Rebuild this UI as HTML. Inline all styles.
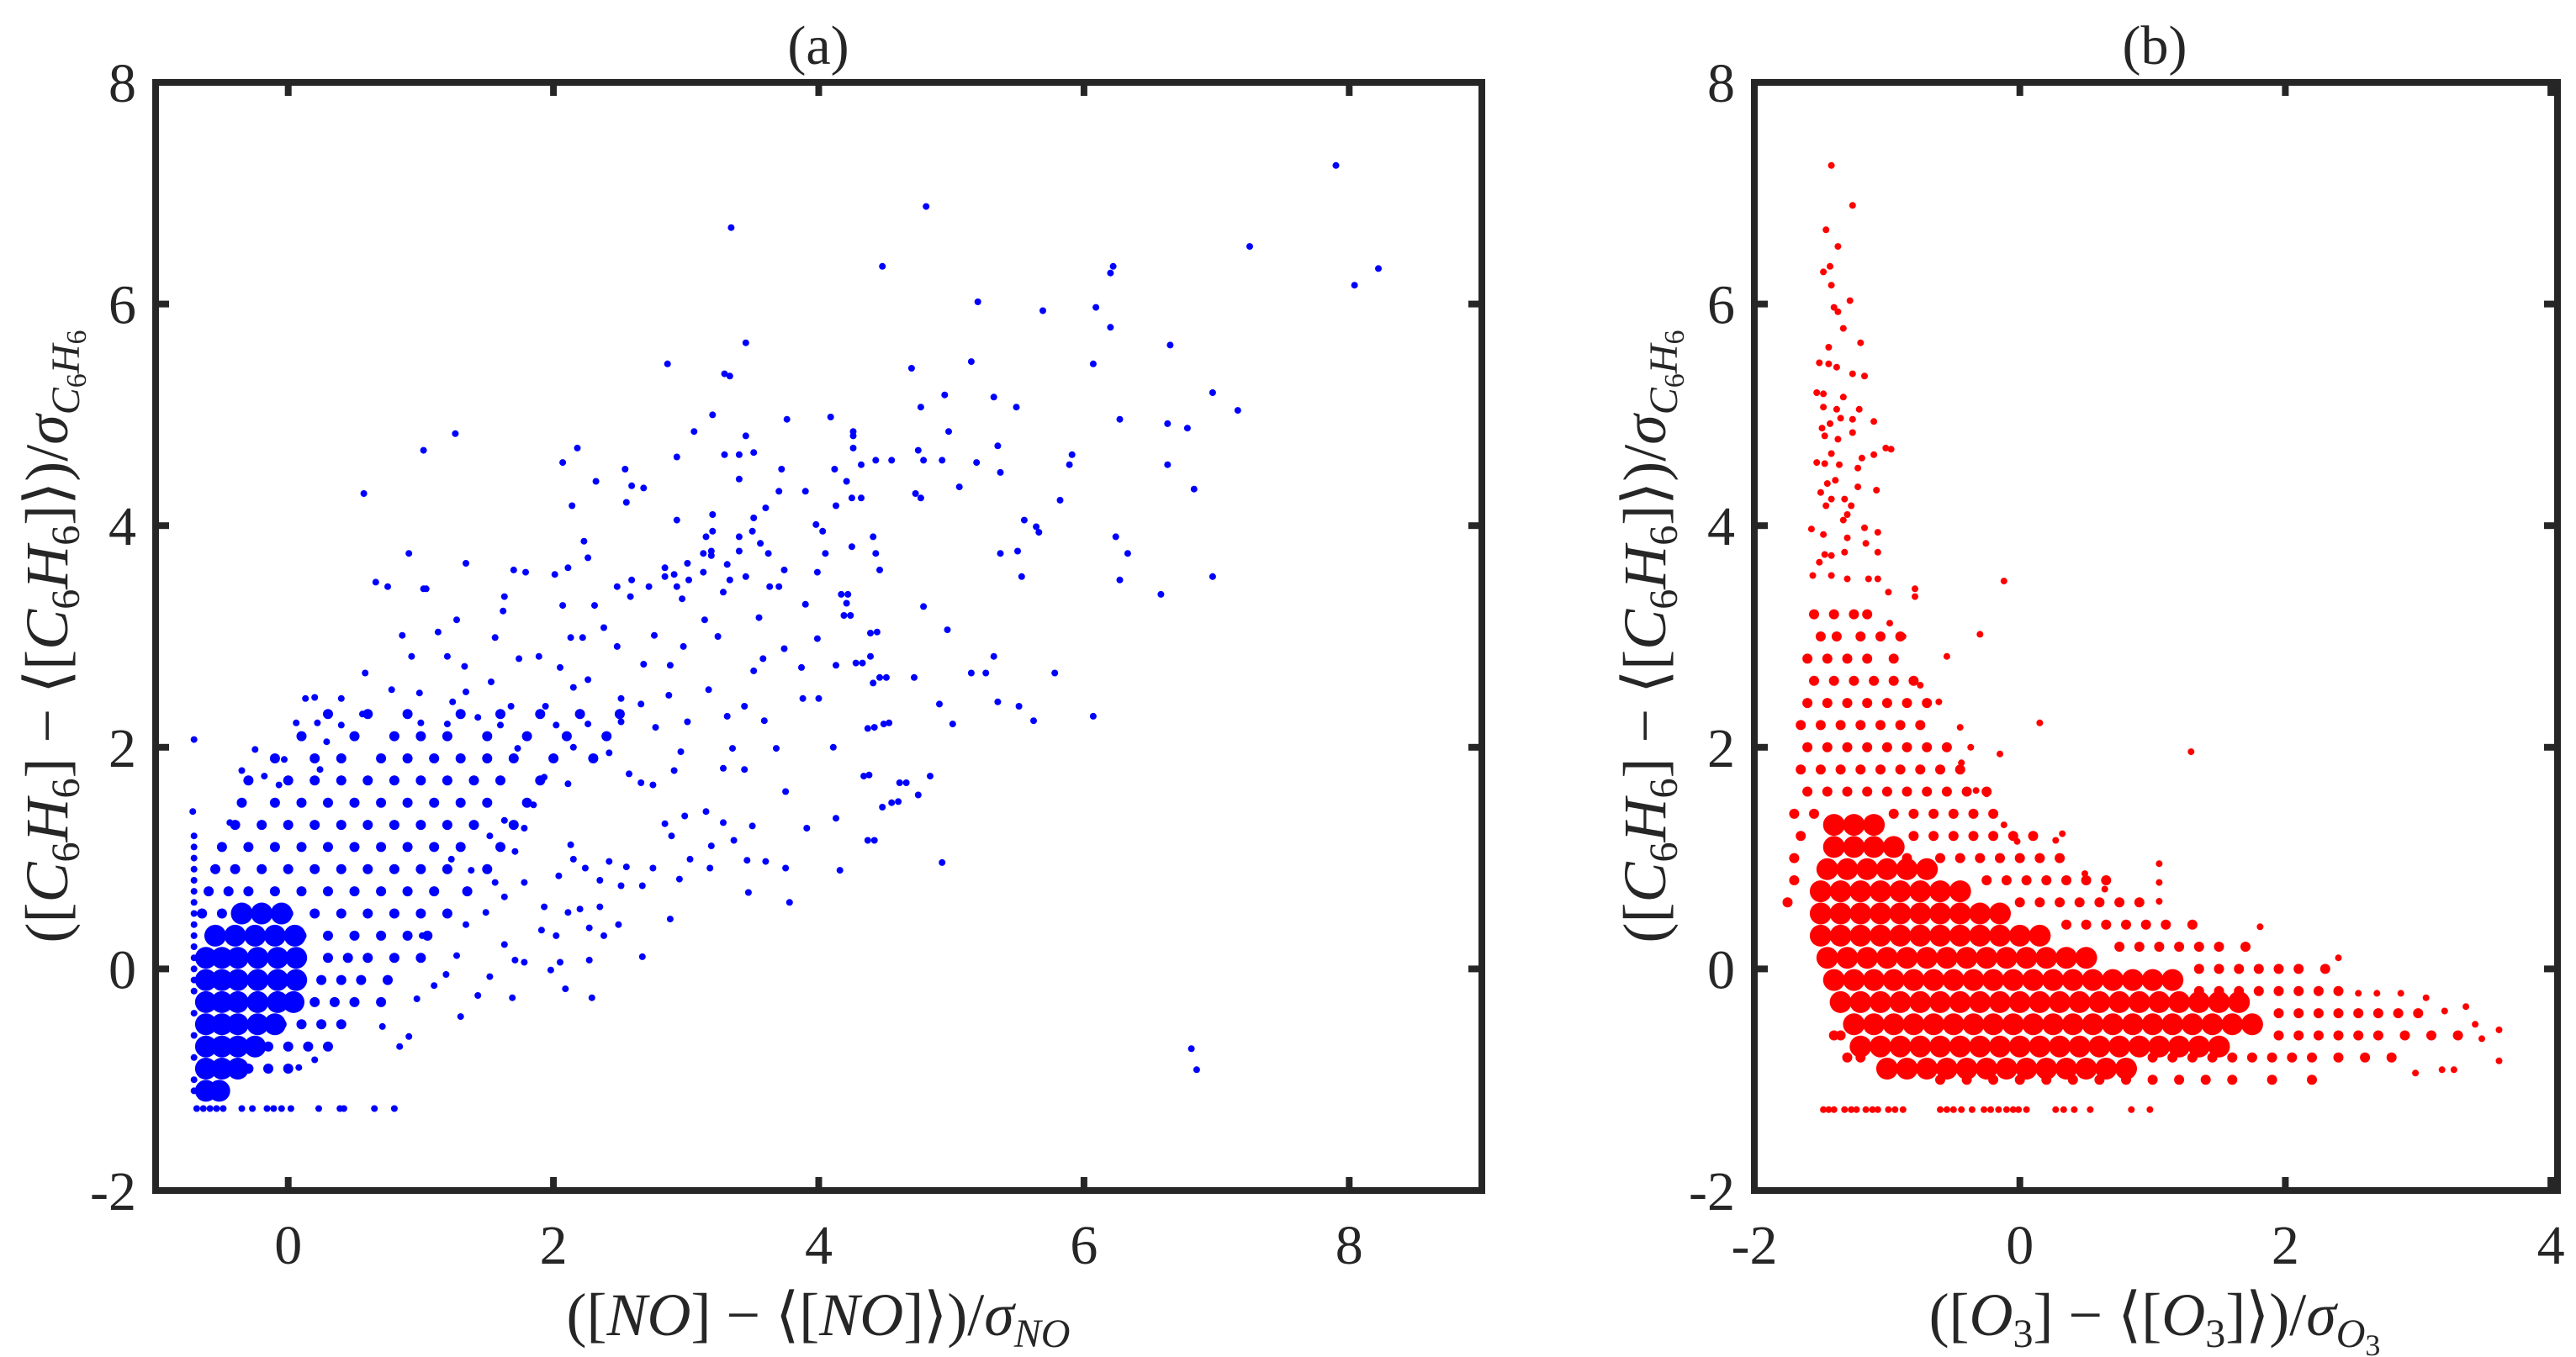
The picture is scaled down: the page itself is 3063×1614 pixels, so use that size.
<!DOCTYPE html>
<html><head><meta charset="utf-8"><style>
html,body{margin:0;padding:0;background:#fff;}
svg{display:block;}
svg text{font-family:"Liberation Serif","Times New Roman","DejaVu Serif",serif !important;fill:#262626;}
</style></head><body>
<svg id="chart" xmlns="http://www.w3.org/2000/svg" width="3063" height="1614" viewBox="0 0 3063 1614" font-family="Liberation Serif, serif">
<rect x="0" y="0" width="3063" height="1614" fill="#fff"/>
<g id="panelA"><g id="marksA"></g></g>
<g id="panelB"><g id="marksB"></g></g>
<g id="axes"></g>
<text x="973" y="76" font-size="66" text-anchor="middle">(a)</text>
<text x="2562" y="76" font-size="66" text-anchor="middle">(b)</text>
<text x="973" y="1588" font-size="72" text-anchor="middle">([<tspan font-style="italic">NO</tspan>] − ⟨[<tspan font-style="italic">NO</tspan>]⟩)/<tspan font-style="italic">σ</tspan><tspan font-style="italic" font-size="48" dy="14">NO</tspan></text>
<text x="2562" y="1588" font-size="72" text-anchor="middle">([<tspan font-style="italic">O</tspan><tspan font-size="48" dy="14">3</tspan><tspan dy="-14">] − ⟨[</tspan><tspan font-style="italic">O</tspan><tspan font-size="48" dy="14">3</tspan><tspan dy="-14">]⟩)/</tspan><tspan font-style="italic">σ</tspan><tspan font-style="italic" font-size="48" dy="14">O</tspan><tspan font-size="36" dy="10">3</tspan></text>
<text transform="translate(80,757) rotate(-90)" font-size="72" text-anchor="middle">([<tspan font-style="italic">C</tspan><tspan font-size="48" dy="14">6</tspan><tspan font-style="italic" dy="-14">H</tspan><tspan font-size="48" dy="14">6</tspan><tspan dy="-14">] − ⟨[</tspan><tspan font-style="italic">C</tspan><tspan font-size="48" dy="14">6</tspan><tspan font-style="italic" dy="-14">H</tspan><tspan font-size="48" dy="14">6</tspan><tspan dy="-14">]⟩)/</tspan><tspan font-style="italic">σ</tspan><tspan font-style="italic" font-size="48" dy="14">C</tspan><tspan font-size="34" dy="8">6</tspan><tspan font-style="italic" font-size="48" dy="-8">H</tspan><tspan font-size="34" dy="8">6</tspan></text>
<text transform="translate(1980,757) rotate(-90)" font-size="72" text-anchor="middle">([<tspan font-style="italic">C</tspan><tspan font-size="48" dy="14">6</tspan><tspan font-style="italic" dy="-14">H</tspan><tspan font-size="48" dy="14">6</tspan><tspan dy="-14">] − ⟨[</tspan><tspan font-style="italic">C</tspan><tspan font-size="48" dy="14">6</tspan><tspan font-style="italic" dy="-14">H</tspan><tspan font-size="48" dy="14">6</tspan><tspan dy="-14">]⟩)/</tspan><tspan font-style="italic">σ</tspan><tspan font-style="italic" font-size="48" dy="14">C</tspan><tspan font-size="34" dy="8">6</tspan><tspan font-style="italic" font-size="48" dy="-8">H</tspan><tspan font-size="34" dy="8">6</tspan></text>
</svg>
<script>
// ---- Panel (a): NO vs C6H6 ----
const xTicksA = [0, 2, 4, 6, 8];
const yTicks = [-2, 0, 2, 4, 6, 8];
const xTicksB = [-2, 0, 2, 4];
const sparseA = [
[7.90,7.25],[4.81,6.88],[4.48,6.34],[7.25,6.52],[6.22,6.34],[6.20,6.28],[8.22,6.32],[8.04,6.17],[5.20,6.02],[5.69,5.94],[6.09,5.97],[6.20,5.79],[6.65,5.63],[5.15,5.48],[6.07,5.46],[4.70,5.42],[4.95,5.18],[4.77,5.07],[5.32,5.16],[5.49,5.07],[6.97,5.20],[7.16,5.04],[6.27,4.96],[6.63,4.92],[6.78,4.88],[4.26,4.85],[4.26,4.81],[4.98,4.85],[4.26,4.70],[4.75,4.68],[5.35,4.72],[5.91,4.64],[4.32,4.55],[4.43,4.59],[4.55,4.59],[4.79,4.59],[4.93,4.59],[5.19,4.57],[5.89,4.55],[6.63,4.55],[5.37,4.48],[4.21,4.40],[5.06,4.35],[6.83,4.33],[4.73,4.29],[4.77,4.25],[4.25,4.25],[4.32,4.25],[5.82,4.23],[5.55,4.05],[5.64,3.99],[5.66,3.94],[4.41,3.90],[6.24,3.90],[4.25,3.81],[4.43,3.75],[5.37,3.75],[5.50,3.77],[6.33,3.75],[4.46,3.60],[5.53,3.54],[6.27,3.51],[6.97,3.54],[4.17,3.38],[6.58,3.38],[4.21,3.30],[4.79,3.27],[4.19,3.19],[4.97,3.06],[4.39,3.03],[4.39,2.82],[5.32,2.82],[4.28,2.76],[5.15,2.67],[5.26,2.67],[5.78,2.67],[4.46,2.63],[4.72,2.63],[4.41,2.58],[4.91,2.39],[5.35,2.41],[5.51,2.37],[6.07,2.28],[5.62,2.24],[4.37,2.17],[4.49,2.21],[5.01,2.21],[4.34,1.74],[4.84,1.74],[4.61,1.68],[4.75,1.57],[4.55,1.50],[4.48,1.46],[4.37,1.16],[4.93,0.96],[6.81,-0.72],[6.85,-0.91],
[3.34,6.69],[3.45,5.65],[2.86,5.46],[3.29,5.37],[3.33,5.35],[3.20,5.00],[4.09,4.98],[3.76,4.96],[1.26,4.83],[3.06,4.85],[3.45,4.81],[1.02,4.68],[2.18,4.70],[2.93,4.62],[3.29,4.64],[3.40,4.64],[3.51,4.66],[2.07,4.57],[2.54,4.51],[3.72,4.51],[4.12,4.51],[2.32,4.40],[2.59,4.36],[2.68,4.34],[3.40,4.42],[0.57,4.29],[3.70,4.31],[3.90,4.31],[2.14,4.18],[2.55,4.21],[4.13,4.18],[3.60,4.16],[3.20,4.10],[3.51,4.07],[2.93,4.05],[3.98,4.01],[3.20,3.95],[3.15,3.90],[3.40,3.90],[3.50,3.95],[4.03,3.95],[2.23,3.86],[3.56,3.84],[0.91,3.75],[3.19,3.77],[3.13,3.75],[3.19,3.73],[3.40,3.77],[3.62,3.75],[4.05,3.75],[2.26,3.71],[1.34,3.66],[3.01,3.66],[3.31,3.65],[1.70,3.60],[1.79,3.58],[2.01,3.56],[2.11,3.62],[2.84,3.62],[2.91,3.56],[2.84,3.54],[3.13,3.58],[3.74,3.60],[3.99,3.58],[0.66,3.49],[0.75,3.45],[1.02,3.43],[2.48,3.45],[2.59,3.51],[2.72,3.45],[2.93,3.45],[3.02,3.51],[3.33,3.51],[3.45,3.54],[3.63,3.45],[3.70,3.45],
[1.04,3.43],[1.63,3.36],[2.58,3.36],[3.28,3.40],[4.22,3.38],[1.62,3.23],[2.07,3.28],[2.31,3.28],[2.97,3.34],[3.90,3.29],[1.27,3.15],[3.14,3.15],[3.55,3.17],[4.24,3.19],[0.86,3.01],[1.13,3.04],[1.56,2.99],[2.13,2.99],[2.38,3.08],[2.76,3.01],[3.24,3.00],[3.99,2.98],[4.44,3.04],[0.93,2.82],[1.20,2.82],[1.89,2.82],[2.48,2.91],[2.98,2.91],[3.74,2.89],[1.33,2.73],[1.74,2.80],[2.22,2.99],[2.68,2.75],[3.58,2.80],[4.13,2.74],[4.33,2.76],[0.58,2.67],[1.53,2.59],[2.05,2.72],[2.26,2.61],[2.88,2.74],[3.51,2.69],[3.87,2.72],[4.51,2.63],[0.78,2.52],[0.99,2.49],[1.34,2.50],[2.15,2.54],[2.51,2.44],[3.17,2.52],[3.88,2.44],[4.00,2.44],[0.13,2.44],[0.20,2.45],[0.40,2.44],[1.24,2.41],[1.68,2.37],[1.94,2.37],[2.66,2.39],[2.87,2.47],[3.44,2.37],[0.06,2.22],[0.22,2.22],[0.40,2.20],[0.56,2.30],[1.00,2.22],[1.20,2.21],[1.43,2.27],[1.60,2.20],[2.02,2.20],[2.26,2.21],[2.51,2.23],[2.77,2.18],[3.01,2.23],[3.31,2.28],[3.59,2.24],[4.42,2.18],[4.53,2.22],[-0.71,2.07],[-0.25,1.98],[-0.03,1.89],[0.29,2.05],[1.73,1.99],[2.15,2.00],[2.42,1.95],[2.96,1.96],[3.35,1.99],[3.68,1.99],[4.11,2.00],[-0.35,1.79],[-0.18,1.74],[0.24,1.80],[2.31,1.91],[2.57,1.76],[2.91,1.79],[3.28,1.81],[3.44,1.80],[4.38,1.75],[4.66,1.68],[-0.07,1.66],[1.93,1.73],[2.11,1.67],[2.66,1.68],[2.75,1.66],[3.75,1.60],[4.60,1.51],[-0.44,1.32],[-0.72,1.42],[2.99,1.38],[3.15,1.42],[3.28,1.32],[3.50,1.29],[3.91,1.27],[4.13,1.36],[4.42,1.16],[2.13,1.12],[2.84,1.31],[2.89,1.20],[3.19,1.11],[3.36,1.16],[2.15,0.99],[2.24,0.91],[2.42,0.97],[2.55,0.92],[2.75,0.91],[3.03,0.99],[3.18,0.91],[3.46,0.98],[3.60,0.97],[3.75,0.91],[4.16,0.89],[1.78,0.78],[2.04,0.84],[2.35,0.80],[2.51,0.75],[2.67,0.75],[2.95,0.81],[3.47,0.69],[3.78,0.60],[1.93,0.56],[2.11,0.51],[2.20,0.54],[2.35,0.56],[2.49,0.40],[2.88,0.45],[1.91,0.35],[2.02,0.30],[2.27,0.37],[2.38,0.30],[1.63,0.22],[1.71,0.08],[1.78,0.06],[2.05,0.06],[2.27,0.08],[2.67,0.11],[1.52,-0.07],[1.98,-0.01],[2.09,-0.18],[2.29,-0.26],[1.69,-0.26],[1.43,-0.24],[1.30,-0.43],[0.97,-0.27],[0.84,-0.70],[0.91,-0.61],[0.71,-0.52],[0.20,-0.82],[0.08,-0.89],
[1.01,0.30],[1.27,0.12],[1.19,-0.05],[1.10,-0.15],[1.34,0.40],[1.49,0.51],[1.63,0.65],[1.56,0.78],[1.38,0.89],[1.23,0.99],[1.71,1.06],[1.52,1.20],[1.78,1.27],[1.85,1.48],[1.63,1.34],
[-0.69,-1.26],[-0.64,-1.26],[-0.59,-1.26],[-0.54,-1.26],[-0.49,-1.26],[-0.35,-1.26],[-0.27,-1.26],[-0.16,-1.26],[-0.11,-1.26],[-0.05,-1.26],[0.02,-1.26],[0.23,-1.26],[0.39,-1.26],[0.42,-1.26],[0.65,-1.26],[0.80,-1.26],
[-0.71,1.2],[-0.71,1.1],[-0.71,1.0],[-0.71,0.9],[-0.71,0.8],[-0.71,0.7],[-0.71,0.6],[-0.71,0.5],[-0.71,0.4],[-0.71,0.3],[-0.71,0.2],[-0.71,0.1],[-0.71,0.0],[-0.71,-0.1],[-0.71,-0.2],[-0.71,-0.4],[-0.71,-0.6],[-0.71,-0.8],[-0.71,-1.0],[-0.71,-1.1]
];
const midRowsA = [
[2.3,[0.3,0.6,0.9,1.3,1.6,1.9,2.2,2.5]],
[2.1,[0.1,0.5,0.8,1.0,1.2,1.5,1.8,2.1,2.4]],
[1.9,[-0.1,0.2,0.4,0.7,0.9,1.1,1.3,1.5,1.7,2.0,2.3]],
[1.7,[-0.3,0.0,0.2,0.4,0.6,0.8,1.0,1.2,1.4,1.6,1.9]],
[1.5,[-0.35,-0.1,0.1,0.3,0.5,0.7,0.9,1.1,1.3,1.5,1.8]],
[1.3,[-0.4,-0.2,0.0,0.2,0.4,0.6,0.8,1.0,1.2,1.4,1.7]],
[1.1,[-0.5,-0.3,-0.1,0.1,0.3,0.5,0.7,0.9,1.1,1.3,1.6]],
[0.9,[-0.55,-0.4,-0.2,0.0,0.2,0.4,0.6,0.8,1.0,1.2,1.5]],
[0.7,[-0.6,-0.45,-0.3,-0.1,0.1,0.3,0.5,0.7,0.9,1.1,1.35]],
[0.5,[-0.65,-0.5,-0.35,-0.2,0.0,0.2,0.4,0.6,0.8,1.0,1.2]],
[0.3,[0.1,0.3,0.5,0.7,0.9,1.05]],
[0.1,[0.1,0.3,0.45,0.6,0.8,1.0]],
[-0.1,[0.1,0.25,0.4,0.55,0.75]],
[-0.3,[0.05,0.2,0.35,0.5,0.7]],
[-0.5,[-0.05,0.1,0.25,0.4]],
[-0.7,[-0.15,0.0,0.15,0.3]],
[-0.9,[-0.3,-0.15,0.0]]
];
const coreRowsA = [
[-1.1,[-0.62,-0.52]],
[-0.9,[-0.62,-0.5,-0.38]],
[-0.7,[-0.62,-0.5,-0.38,-0.25]],
[-0.5,[-0.62,-0.5,-0.38,-0.23,-0.1]],
[-0.3,[-0.62,-0.5,-0.38,-0.23,-0.08,0.04]],
[-0.1,[-0.62,-0.5,-0.38,-0.23,-0.08,0.06]],
[0.1,[-0.62,-0.5,-0.38,-0.23,-0.08,0.06]],
[0.3,[-0.55,-0.4,-0.25,-0.1,0.05]],
[0.5,[-0.35,-0.2,-0.05]]
];
// ---- Panel (b): O3 vs C6H6 ----
const sparseB = [
[-1.42,7.25],[-1.26,6.89],[-1.46,6.67],[-1.37,6.52],[-1.48,6.29],[-1.43,6.34],[-1.42,6.17],[-1.28,6.03],[-1.40,5.97],[-1.37,5.93],[-1.33,5.78],[-1.20,5.65],[-1.44,5.61],[-1.51,5.47],[-1.44,5.46],[-1.38,5.43],[-1.26,5.37],[-1.17,5.35],[-1.53,5.20],[-1.48,5.19],[-1.33,5.16],[-1.38,5.05],[-1.48,5.07],[-1.21,5.05],[-1.35,4.97],[-1.26,4.96],[-1.10,4.94],[-1.49,4.88],[-1.43,4.92],[-1.47,4.81],[-1.26,4.84],[-1.37,4.78],[-1.01,4.70],[-0.97,4.69],[-1.42,4.65],[-1.19,4.61],[-1.10,4.64],[-1.53,4.57],[-1.47,4.56],[-1.36,4.55],[-1.22,4.52],[-1.39,4.41],[-1.45,4.38],[-1.22,4.35],[-1.08,4.32],[-1.50,4.30],[-1.42,4.24],[-1.32,4.24],[-1.46,4.18],[-1.27,4.18],[-1.33,4.05],[-1.30,4.10],[-1.57,3.97],[-1.48,3.92],[-1.17,3.98],[-1.07,3.94],[-1.30,3.89],[-1.32,3.76],[-1.16,3.84],[-1.07,3.76],[-1.51,3.67],[-1.47,3.74],[-1.42,3.73],[-1.56,3.55],[-1.42,3.55],[-1.30,3.52],[-1.14,3.52],[-1.07,3.52],[-0.79,3.43],[-0.79,3.36],[-0.12,3.50],[-0.99,3.40],[-0.30,3.02],[-0.88,3.00],[-0.98,3.12],[-0.55,2.82],[0.15,2.22],[1.29,1.96],[-0.15,1.94],[-0.75,2.56],[-0.61,2.41],[-0.45,2.18],[-0.37,2.00],[-0.44,1.86],[-0.33,1.61],[-0.25,1.58],[-0.12,1.30],[0.32,1.22],[0.27,1.16],[-0.02,1.15],[0.49,0.86],[0.64,0.72],[1.05,0.95],[1.05,0.78],[1.05,0.61],[1.81,0.38],[2.40,0.10],[2.55,-0.22],[2.69,-0.22],[2.87,-0.22],[3.06,-0.26],[3.36,-0.34],[3.43,-0.50],[3.61,-0.55],[3.61,-0.83],[3.48,-0.63],[3.20,-0.38],[3.27,-0.91],[2.98,-0.94],[3.18,-0.91],[2.79,-0.79],
[-1.48,-1.27],[-1.44,-1.27],[-1.40,-1.27],[-1.32,-1.27],[-1.27,-1.27],[-1.23,-1.27],[-1.16,-1.27],[-1.11,-1.27],[-1.07,-1.27],[-0.99,-1.27],[-0.94,-1.27],[-0.88,-1.27],[-0.60,-1.27],[-0.55,-1.27],[-0.50,-1.27],[-0.44,-1.27],[-0.36,-1.27],[-0.27,-1.27],[-0.22,-1.27],[-0.16,-1.27],[-0.10,-1.27],[-0.05,-1.27],[-0.01,-1.27],[0.05,-1.27],[0.27,-1.27],[0.33,-1.27],[0.41,-1.27],[0.53,-1.27],[0.84,-1.27],[0.98,-1.27]
];
const midRowsB = [
[3.2,[-1.55,-1.4,-1.25,-1.15]],
[3.0,[-1.5,-1.38,-1.2,-1.05,-0.9]],
[2.8,[-1.6,-1.45,-1.3,-1.15,-0.95]],
[2.6,[-1.55,-1.4,-1.25,-1.1,-0.95,-0.8]],
[2.4,[-1.6,-1.45,-1.3,-1.15,-1.0,-0.85,-0.7]],
[2.2,[-1.65,-1.5,-1.35,-1.2,-1.05,-0.9,-0.75]],
[2.0,[-1.6,-1.45,-1.3,-1.15,-1.0,-0.85,-0.7,-0.55]],
[1.8,[-1.65,-1.5,-1.35,-1.2,-1.05,-0.9,-0.75,-0.6,-0.45]],
[1.6,[-1.6,-1.45,-1.3,-1.15,-1.0,-0.85,-0.7,-0.55,-0.4,-0.25]],
[1.4,[-1.7,-1.55,-0.95,-0.8,-0.65,-0.5,-0.35,-0.2]],
[1.2,[-1.65,-0.8,-0.65,-0.5,-0.35,-0.2,-0.05,0.1]],
[1.0,[-1.7,-0.85,-0.6,-0.45,-0.3,-0.15,0.0,0.15,0.3]],
[0.8,[-1.7,-0.25,-0.1,0.05,0.2,0.35,0.5,0.65]],
[0.6,[-1.75,0.0,0.15,0.3,0.45,0.6,0.75,0.9]],
[0.4,[0.35,0.5,0.65,0.8,0.95,1.1,1.3]],
[0.2,[0.75,0.9,1.05,1.2,1.35,1.5,1.7]],
[0.0,[1.35,1.5,1.65,1.8,1.95,2.1,2.3]],
[-0.2,[1.35,1.5,1.65,1.8,1.95,2.1,2.25,2.4]],
[-0.4,[1.95,2.1,2.25,2.4,2.55,2.7,2.85,3.0]],
[-0.6,[-1.4,-1.35,1.95,2.1,2.25,2.4,2.55,2.7,2.9,3.1,3.3]],
[-0.8,[-1.3,-1.2,1.0,1.15,1.3,1.45,1.6,1.75,1.9,2.05,2.2,2.4,2.6,2.8]],
[-1.0,[-0.6,-0.4,-0.2,0.0,0.2,0.4,0.6,0.8,1.0,1.2,1.4,1.6,1.9,2.2]]
];
const coreRowsB = [
[-0.9,[-1.0,-0.85,-0.7,-0.55,-0.4,-0.25,-0.1,0.05,0.2,0.35,0.5,0.65,0.8]],
[-0.7,[-1.2,-1.05,-0.9,-0.75,-0.6,-0.45,-0.3,-0.15,0.0,0.15,0.3,0.45,0.6,0.75,0.9,1.05,1.2,1.35,1.5]],
[-0.5,[-1.25,-1.1,-0.95,-0.8,-0.65,-0.5,-0.35,-0.2,-0.05,0.1,0.25,0.4,0.55,0.7,0.85,1.0,1.15,1.3,1.45,1.6,1.75]],
[-0.3,[-1.35,-1.2,-1.05,-0.9,-0.75,-0.6,-0.45,-0.3,-0.15,0.0,0.15,0.3,0.45,0.6,0.75,0.9,1.05,1.2,1.35,1.5,1.65]],
[-0.1,[-1.4,-1.25,-1.1,-0.95,-0.8,-0.65,-0.5,-0.35,-0.2,-0.05,0.1,0.25,0.4,0.55,0.7,0.85,1.0,1.15]],
[0.1,[-1.45,-1.3,-1.15,-1.0,-0.85,-0.7,-0.55,-0.4,-0.25,-0.1,0.05,0.2,0.35,0.5]],
[0.3,[-1.5,-1.35,-1.2,-1.05,-0.9,-0.75,-0.6,-0.45,-0.3,-0.15,0.0,0.15]],
[0.5,[-1.5,-1.35,-1.2,-1.05,-0.9,-0.75,-0.6,-0.45,-0.3,-0.15]],
[0.7,[-1.5,-1.35,-1.2,-1.05,-0.9,-0.75,-0.6,-0.45]],
[0.9,[-1.45,-1.3,-1.15,-1.0,-0.85,-0.7]],
[1.1,[-1.4,-1.25,-1.1,-0.95]],
[1.3,[-1.4,-1.25,-1.1]]
];

const NS = 'http://www.w3.org/2000/svg';
const Y0 = 98, Y1 = 1416, YMIN = -2, YMAX = 8;
const A = {x0:185, x1:1762, xmin:-1, xmax:9};
const B = {x0:2086, x1:3041, xmin:-2, xmax:4.05};
function sx(p, v){ return p.x0 + (v - p.xmin) / (p.xmax - p.xmin) * (p.x1 - p.x0); }
function sy(v){ return Y1 - (v - YMIN) / (YMAX - YMIN) * (Y1 - Y0); }

function dot(g, p, x, y, r, color){
  const c = document.createElementNS(NS, 'circle');
  c.setAttribute('cx', sx(p, x).toFixed(1));
  c.setAttribute('cy', sy(y).toFixed(1));
  c.setAttribute('r', r);
  c.setAttribute('fill', color);
  
  
  g.appendChild(c);
}
function drawPanel(gid, p, sparse, mids, cores, color){
  const g = document.getElementById(gid);
  cores.forEach(function(row){ row[1].forEach(function(x){ dot(g, p, x, row[0], 13, color); }); });
  mids.forEach(function(row){ row[1].forEach(function(x){ dot(g, p, x, row[0], 6, color); }); });
  sparse.forEach(function(pt){ dot(g, p, pt[0], pt[1], 4, color); });
}
drawPanel('marksA', A, sparseA, midRowsA, coreRowsA, '#0000ff');
drawPanel('marksB', B, sparseB, midRowsB, coreRowsB, '#ff0000');

const ax = document.getElementById('axes');
function line(x1,y1,x2,y2,name){
  const l = document.createElementNS(NS,'line');
  l.setAttribute('x1',x1); l.setAttribute('y1',y1); l.setAttribute('x2',x2); l.setAttribute('y2',y2);
  l.setAttribute('stroke','#262626'); l.setAttribute('stroke-width','8');
  
  
  ax.appendChild(l);
}
function label(x,y,txt,anchor,name){
  const t = document.createElementNS(NS,'text');
  t.setAttribute('x',x); t.setAttribute('y',y); t.setAttribute('font-size','66');
  t.setAttribute('text-anchor',anchor);
  t.textContent = txt;
  
  
  ax.appendChild(t);
}
function frame(p, xt, tag){
  const r = document.createElementNS(NS,'rect');
  r.setAttribute('x',p.x0); r.setAttribute('y',Y0); r.setAttribute('width',p.x1-p.x0); r.setAttribute('height',Y1-Y0);
  r.setAttribute('fill','none'); r.setAttribute('stroke','#262626'); r.setAttribute('stroke-width','8');
  
  
  ax.appendChild(r);
  xt.forEach(function(v){
    const X = sx(p, v);
    line(X, Y1, X, Y1-16, 'x-tick-' + tag);
    line(X, Y0, X, Y0+16, 'x-tick-top-' + tag);
    label(X, 1503, String(v), 'middle', 'x-tick-label-' + tag);
  });
  yTicks.forEach(function(v){
    const Y = sy(v);
    line(p.x0, Y, p.x0+16, Y, 'y-tick-' + tag);
    line(p.x1, Y, p.x1-16, Y, 'y-tick-right-' + tag);
    label(p.x0-23, Y+23, String(v), 'end', 'y-tick-label-' + tag);
  });
}
frame(A, xTicksA, 'a');
frame(B, xTicksB, 'b');
</script>
</body></html>
